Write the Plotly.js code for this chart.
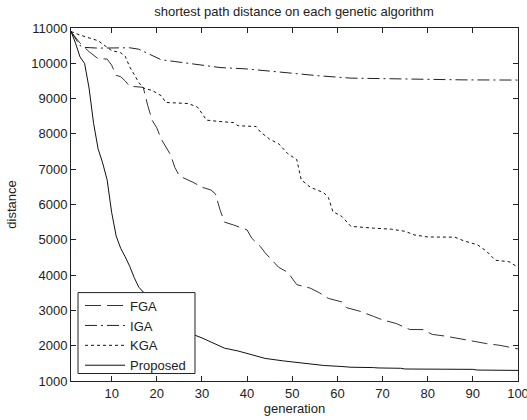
<!DOCTYPE html>
<html>
<head>
<meta charset="utf-8">
<script src="https://cdn.plot.ly/plotly-3.0.1.min.js"></script>
<style>html,body{margin:0;padding:0;background:#fff;}#chart{width:527px;height:420px;}</style>
</head>
<body>
<div id="chart"></div>
<script>
// ---- data ----
const seriesNames = ["FGA", "IGA", "KGA", "Proposed"];

const fgaGen  = [1, 3, 5, 7, 9, 10, 11, 12, 13, 14, 17, 18, 19, 20, 21, 23, 24, 25, 28, 30, 32, 33, 34, 35, 37, 40, 41, 43, 44, 47, 49, 51, 54, 56, 58, 61, 62, 65, 68, 70, 73, 76, 79, 81, 84, 87, 90, 93, 96, 99, 100];
const fgaDist = [10900, 10570, 10330, 10130, 10120, 9950, 9660, 9620, 9500, 9350, 9320, 8800, 8380, 8170, 7850, 7420, 7050, 6810, 6630, 6490, 6410, 6300, 5850, 5500, 5420, 5280, 5050, 4800, 4630, 4220, 4080, 3730, 3630, 3500, 3340, 3240, 3080, 2975, 2830, 2730, 2630, 2460, 2455, 2320, 2270, 2195, 2130, 2060, 2010, 1940, 1910];

const igaGen  = [1, 2, 3, 4, 7, 14, 16, 18, 21, 24, 27, 30, 34, 40, 44, 50, 56, 63, 72, 80, 88, 100];
const igaDist = [10900, 10700, 10500, 10450, 10430, 10440, 10400, 10280, 10100, 10050, 10000, 9950, 9880, 9840, 9790, 9700, 9645, 9580, 9560, 9555, 9530, 9525];

const kgaGen  = [1, 3, 7, 8, 10, 12, 13, 14, 15, 16, 17, 19, 21, 22, 27, 29, 30, 31, 34, 37, 38, 42, 43, 45, 47, 49, 51, 52, 54, 57, 58, 59, 61, 63, 68, 72, 75, 77, 80, 86, 88, 91, 93, 95, 98, 99, 100];
const kgaDist = [10900, 10800, 10640, 10540, 10360, 10300, 10200, 9900, 9680, 9460, 9300, 9230, 9080, 8890, 8860, 8760, 8580, 8390, 8350, 8320, 8230, 8210, 8050, 7850, 7720, 7440, 7270, 6700, 6490, 6330, 6200, 5800, 5660, 5380, 5330, 5300, 5240, 5140, 5080, 5075, 4970, 4860, 4680, 4420, 4380, 4290, 4220];

const propGen  = [1, 2, 3, 4, 5, 6, 7, 8, 9, 10, 11, 12, 13, 14, 15, 16, 17, 18, 20, 22, 25, 28, 30, 33, 35, 38, 41, 44, 48, 53, 57, 61, 63, 68, 69, 74, 75, 90, 91, 100];
const propDist = [10900, 10570, 10180, 10000, 9300, 8300, 7580, 7180, 6700, 5780, 5110, 4760, 4520, 4250, 3930, 3660, 3520, 3430, 3100, 2850, 2550, 2320, 2220, 2050, 1930, 1850, 1740, 1640, 1570, 1500, 1440, 1410, 1390, 1380, 1370, 1360, 1340, 1330, 1310, 1300];

const xTicks = [10, 20, 30, 40, 50, 60, 70, 80, 90, 100];
const yTicks = [1000, 2000, 3000, 4000, 5000, 6000, 7000, 8000, 9000, 10000, 11000];

// ---- styles ----
const FONT = "Liberation Sans, Arial, sans-serif";
const TXT = "#222";
const dashes = ["16px,6px", "12px,4px,2px,4px", "3px,3px", "solid"];
const colors = ["#333", "#222", "#111", "#111"];

const xs = [fgaGen, igaGen, kgaGen, propGen];
const ys = [fgaDist, igaDist, kgaDist, propDist];

const traces = seriesNames.map((n, i) => ({
  x: xs[i], y: ys[i], name: n, type: "scatter", mode: "lines",
  line: {color: colors[i], width: 1, dash: dashes[i]},
  hoverinfo: "skip"
}));

const axisCommon = {
  showgrid: false, zeroline: false, showline: true, linecolor: "#222", linewidth: 1,
  ticks: "inside", ticklen: 5, tickwidth: 1, tickcolor: "#222", mirror: "allticks",
  ticklabeloverflow: "allow",
  tickfont: {family: FONT, size: 13, color: TXT}
};

const layout = {
  width: 527, height: 420,
  margin: {l: 71, r: 9, t: 28, b: 38.5},
  paper_bgcolor: "#fff", plot_bgcolor: "#fff",
  font: {family: FONT, size: 13, color: TXT},
  title: {text: "shortest path distance on each genetic algorithm", font: {family: FONT, size: 13, color: TXT},
          x: 0.558, xanchor: "center", y: 0.972, yanchor: "middle"},
  xaxis: Object.assign({}, axisCommon, {range: [1, 100], tickmode: "array", tickvals: xTicks,
          ticktext: xTicks.map(String),
          title: {text: "generation", font: {family: FONT, size: 13, color: TXT}, standoff: 4}}),
  yaxis: Object.assign({}, axisCommon, {range: [1000, 11000], tickmode: "array", tickvals: yTicks,
          ticktext: yTicks.map(String),
          title: {text: "distance", font: {family: FONT, size: 13, color: TXT}, standoff: 11}}),
  shapes: [{type: "rect", xref: "paper", yref: "paper", layer: "above",
            x0: 0.0157, x1: 0.2774, y0: 0.0212, y1: 0.2504,
            fillcolor: "#fff", line: {color: "#222", width: 1}}],
  showlegend: true,
  legend: {x: 0.0202, y: 0.0012, xanchor: "left", yanchor: "bottom", bgcolor: "rgba(0,0,0,0)",
           borderwidth: 0, itemwidth: 40,
           font: {family: FONT, size: 13, color: TXT}}
};

Plotly.newPlot("chart", traces, layout, {displayModeBar: false, staticPlot: true});
</script>
</body>
</html>
